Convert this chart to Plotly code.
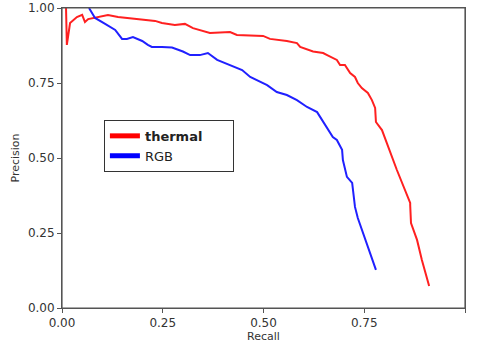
import plotly.graph_objects as go

thermal_recall = [0.010, 0.012, 0.020, 0.037, 0.050, 0.057, 0.065, 0.089, 0.114, 0.139, 0.189, 0.231,
                  0.248, 0.280, 0.305, 0.325, 0.367, 0.417, 0.434, 0.499, 0.516, 0.558, 0.583, 0.591,
                  0.623, 0.648, 0.658, 0.682, 0.690, 0.702, 0.715, 0.727, 0.734, 0.744, 0.759, 0.769,
                  0.777, 0.779, 0.794, 0.806, 0.831, 0.864, 0.864, 0.866, 0.881, 0.893, 0.911]
thermal_precision = [1.0, 0.877, 0.95, 0.97, 0.977, 0.953, 0.963, 0.97, 0.977, 0.97, 0.963, 0.957,
                     0.95, 0.943, 0.947, 0.933, 0.917, 0.92, 0.91, 0.907, 0.897, 0.89, 0.883, 0.87,
                     0.855, 0.85, 0.843, 0.827, 0.81, 0.81, 0.783, 0.77, 0.75, 0.733, 0.717, 0.693,
                     0.667, 0.62, 0.593, 0.55, 0.46, 0.35, 0.343, 0.283, 0.227, 0.16, 0.073]

rgb_recall = [0.067, 0.082, 0.107, 0.132, 0.149, 0.161, 0.176, 0.199, 0.213, 0.223, 0.248, 0.273,
              0.300, 0.318, 0.342, 0.362, 0.385, 0.417, 0.447, 0.467, 0.484, 0.509, 0.533, 0.558,
              0.583, 0.608, 0.633, 0.653, 0.672, 0.682, 0.695, 0.697, 0.707, 0.720, 0.727, 0.734,
              0.747, 0.757, 0.779]
rgb_precision = [1.0, 0.967, 0.947, 0.927, 0.897, 0.897, 0.903, 0.89, 0.877, 0.87, 0.87, 0.868,
                 0.855, 0.843, 0.843, 0.85, 0.827, 0.81, 0.793, 0.77, 0.76, 0.743, 0.72, 0.71,
                 0.693, 0.67, 0.653, 0.61, 0.57, 0.56, 0.527, 0.493, 0.437, 0.417, 0.337, 0.3,
                 0.25, 0.217, 0.127]

tick_vals = [0, 0.25, 0.5, 0.75, 1.0]
tick_text = ["0.00", "0.25", "0.50", "0.75", "1.00"]

RED = "#ff2020"
BLUE = "#2020ff"
NBSP = "\u00a0"

fig = go.Figure()
fig.add_trace(go.Scatter(x=thermal_recall, y=thermal_precision, mode="lines",
                         line=dict(color=RED, width=2), showlegend=False))
fig.add_trace(go.Scatter(x=rgb_recall, y=rgb_precision, mode="lines",
                         line=dict(color=BLUE, width=2), showlegend=False))
# legend entries with thicker sample lines
fig.add_trace(go.Scatter(x=[None], y=[None], mode="lines", name="<b>thermal</b>" + NBSP * 6,
                         line=dict(color="#ff0000", width=5)))
fig.add_trace(go.Scatter(x=[None], y=[None], mode="lines", name="RGB",
                         line=dict(color="#0000ff", width=5)))

axis_common = dict(range=[0, 1], tickvals=tick_vals, ticktext=tick_text, automargin=False,
                   showgrid=False, zeroline=False, showline=True, linecolor="#555555",
                   linewidth=1, mirror=True, ticks="outside", ticklen=4, tickcolor="#555555",
                   tickfont=dict(size=12, color="#333333"))

fig.update_layout(
    width=478, height=349,
    margin=dict(l=62, r=13, t=8, b=41, autoexpand=False),
    paper_bgcolor="white", plot_bgcolor="white",
    font=dict(family="DejaVu Sans", color="#333333"),
    xaxis=dict(title=dict(text="Recall", font=dict(size=11), standoff=1), **axis_common),
    yaxis=dict(title=dict(text="Precision", font=dict(size=11), standoff=6), **axis_common),
    legend=dict(x=0.104, y=0.627, xanchor="left", yanchor="top",
                bgcolor="white", bordercolor="#333333", borderwidth=1,
                font=dict(size=13, color="#222222"), tracegroupgap=2, itemwidth=30),
    shapes=[dict(type="rect", xref="paper", yref="paper", x0=0, y0=0, x1=1, y1=1,
                 line=dict(color="#555555", width=1.2), layer="above")],
)

fig.write_html("out.html", config={"displayModeBar": False},
               post_script="document.body.style.margin='0px';")
